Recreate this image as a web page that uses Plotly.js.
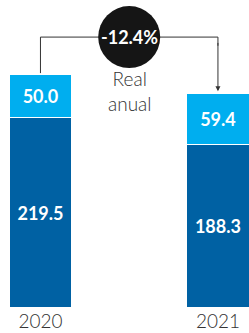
<!DOCTYPE html>
<html>
<head>
<meta charset="utf-8">
<script src="https://cdn.plot.ly/plotly-3.0.1.min.js"></script>
<style>html,body{margin:0;padding:0;background:#fff;}#chart{width:249px;height:333px;}</style>
</head>
<body>
<div id="chart"></div>
<script>
const years = ["2020", "2021"];
const baseValues = [219.5, 188.3];
const topValues = [50.0, 59.4];
const changeLabel = "-12.4%";
const changeNote = "Real<br>anual";

const darkBlue = "#0061A3";
const lightBlue = "#00AEEF";
const totals = years.map((_, i) => baseValues[i] + topValues[i]);
const bracketLevel = 312;

const textFont = {family: "Lato, 'Open Sans', sans-serif", size: 18, color: "#ffffff", weight: 700};

const traces = [
  {
    type: "bar", x: years, y: baseValues,
    text: baseValues.map(v => v.toFixed(1)),
    textposition: "inside", insidetextanchor: "middle", textangle: 0,
    constraintext: "none", textfont: textFont,
    marker: {color: darkBlue, line: {color: "#ffffff", width: 1.5}},
    width: 0.355, hoverinfo: "none"
  },
  {
    type: "bar", x: years, y: topValues,
    text: topValues.map(v => v.toFixed(1)),
    textposition: "inside", insidetextanchor: "middle", textangle: 0,
    constraintext: "none", textfont: textFont,
    marker: {color: lightBlue, line: {color: "#ffffff", width: 1.5}},
    width: 0.355, hoverinfo: "none"
  }
];

const layout = {
  width: 249, height: 333,
  margin: {l: 0, r: 0, t: 0, b: 25},
  paper_bgcolor: "#ffffff", plot_bgcolor: "#ffffff",
  barmode: "stack", showlegend: false,
  xaxis: {
    type: "category", range: [-0.228, 1.175],
    showgrid: false, zeroline: false, showline: false, ticks: "",
    tickfont: {family: "Lato, 'Open Sans', sans-serif", size: 19, color: "#333333", weight: 300}
  },
  yaxis: {range: [0, 354.7], visible: false, showgrid: false, zeroline: false},
  shapes: [
    {
      type: "path", xref: "x", yref: "y",
      path: `M 0,${totals[0] + 1} L 0,${bracketLevel} L 1,${bracketLevel} L 1,${bracketLevel - 10}`,
      line: {color: "#333333", width: 1}
    },
    {
      type: "circle", xref: "x", yref: "y",
      xsizemode: "pixel", ysizemode: "pixel",
      xanchor: 0.5, yanchor: bracketLevel,
      x0: -31, x1: 31, y0: -31, y1: 31,
      fillcolor: "#151515", line: {color: "#151515", width: 0}
    }
  ],
  annotations: [
    {
      x: 1, y: totals[1] + 2, xref: "x", yref: "y",
      ax: 1, ay: bracketLevel - 5, axref: "x", ayref: "y",
      showarrow: true, arrowhead: 2, arrowsize: 1, arrowwidth: 1, arrowcolor: "#333333",
      text: ""
    },
    {
      x: 0.5, y: bracketLevel, xref: "x", yref: "y", showarrow: false,
      text: changeLabel,
      font: {family: "Lato, 'Open Sans', sans-serif", size: 18, color: "#ffffff", weight: 700}
    },
    {
      x: 0.5, y: 250, xref: "x", yref: "y", showarrow: false,
      text: changeNote,
      font: {family: "Lato, 'Open Sans', sans-serif", size: 19, color: "#333333", weight: 300}
    }
  ]
};

Plotly.newPlot("chart", traces, layout, {staticPlot: true, displayModeBar: false});
</script>
</body>
</html>
